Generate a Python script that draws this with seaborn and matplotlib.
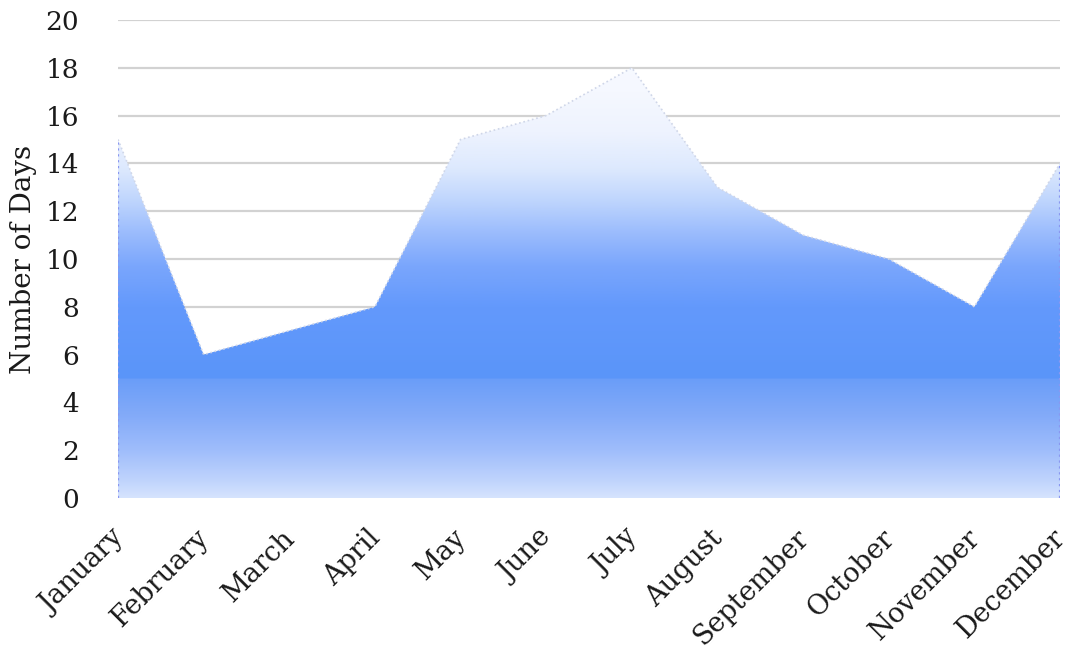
import numpy as np
import pandas as pd
import matplotlib
matplotlib.use("Agg")
import matplotlib.pyplot as plt
import matplotlib.transforms as mtransforms
from matplotlib.colors import to_rgb
import seaborn as sns

# Monthly count of days
months = ["January", "February", "March", "April", "May", "June", "July",
          "August", "September", "October", "November", "December"]
days = [15, 6, 7, 8, 15, 16, 18, 13, 11, 10, 8, 14]
yticks = list(range(0, 21, 2))

sns.set_theme(style="whitegrid")
plt.rcParams["font.family"] = ["DejaVu Serif"]

df = pd.DataFrame({"month": months, "days": days, "pos": np.arange(len(months))})

fig = plt.figure(figsize=(10.73, 6.58), dpi=100)
ax = fig.add_axes([118 / 1073, 1 - 498 / 658, 942 / 1073, 478 / 658])

# outline of the area
sns.lineplot(data=df, x="pos", y="days", ax=ax, color="#cfd6e8",
             lw=1.2, ls=":", zorder=4)

# vertical gradient fill, two bands split at 5
upper_stops = [(5.0, "#5a95f9"), (8.0, "#6399fc"), (9.7, "#7aa6fc"),
               (11.1, "#9bbcfd"), (12.5, "#c0d6fd"), (13.8, "#dde9fe"),
               (15.3, "#eef3fe"), (17.0, "#f5f8ff"), (20.0, "#fbfcff")]
lower_stops = [(0.0, "#d6e4fe"), (0.6, "#c3d6fd"), (2.0, "#9fbdfb"),
               (3.4, "#84abf9"), (4.99, "#6a9df8")]


def band_colour(v):
    stops = lower_stops if v < 5 else upper_stops
    xs = [s[0] for s in stops]
    cs = np.array([to_rgb(s[1]) for s in stops])
    return [np.interp(v, xs, cs[:, k]) for k in range(3)]


levels = np.linspace(0, 20, 800)
grad = np.array([band_colour(v) for v in levels])[:, None, :]

fill = ax.fill_between(df["pos"], df["days"], 0, facecolor="none",
                       edgecolor="none", zorder=2)
img = ax.imshow(grad, origin="lower", aspect="auto",
                extent=[df["pos"].min(), df["pos"].max(), 0, 20],
                interpolation="bilinear", zorder=3)
img.set_clip_path(fill.get_paths()[0], transform=ax.transData)

# side edges of the area
ax.vlines([df["pos"].iloc[0], df["pos"].iloc[-1]], 0,
          [df["days"].iloc[0], df["days"].iloc[-1]],
          colors="#8a97f0", linestyles=":", lw=1.6, zorder=4)

ax.set_xlim(df["pos"].min(), df["pos"].max())
ax.set_ylim(0, 20)
ax.set_yticks(yticks)
ax.set_yticklabels([str(t) for t in yticks])
ax.set_xticks(df["pos"])
ax.set_xticklabels(months, rotation=45, ha="right", va="top",
                   rotation_mode="anchor")
ax.tick_params(axis="y", length=0, pad=28, labelsize=19, labelcolor="#1a1a1a")
ax.tick_params(axis="x", length=0, pad=19, labelsize=19.5, labelcolor="#1a1a1a")

# nudge the slanted month labels a little to the left
shift = mtransforms.ScaledTranslation(-8 / 100, 0, fig.dpi_scale_trans)
for lab in ax.get_xticklabels():
    lab.set_transform(lab.get_transform() + shift)

ax.grid(axis="x", visible=False)
ax.grid(axis="y", color="#d2d2d2", lw=1.6)
ax.get_ygridlines()[0].set_visible(False)
ax.set_axisbelow(True)
for sp in ax.spines.values():
    sp.set_visible(False)
ax.set_facecolor("white")

ax.set_xlabel("")
ax.set_ylabel("Number of Days", fontsize=20, color="#1a1a1a")
ax.yaxis.set_label_coords(-0.086, 0.5)

fig.savefig("out.png", dpi=100, facecolor="white")
